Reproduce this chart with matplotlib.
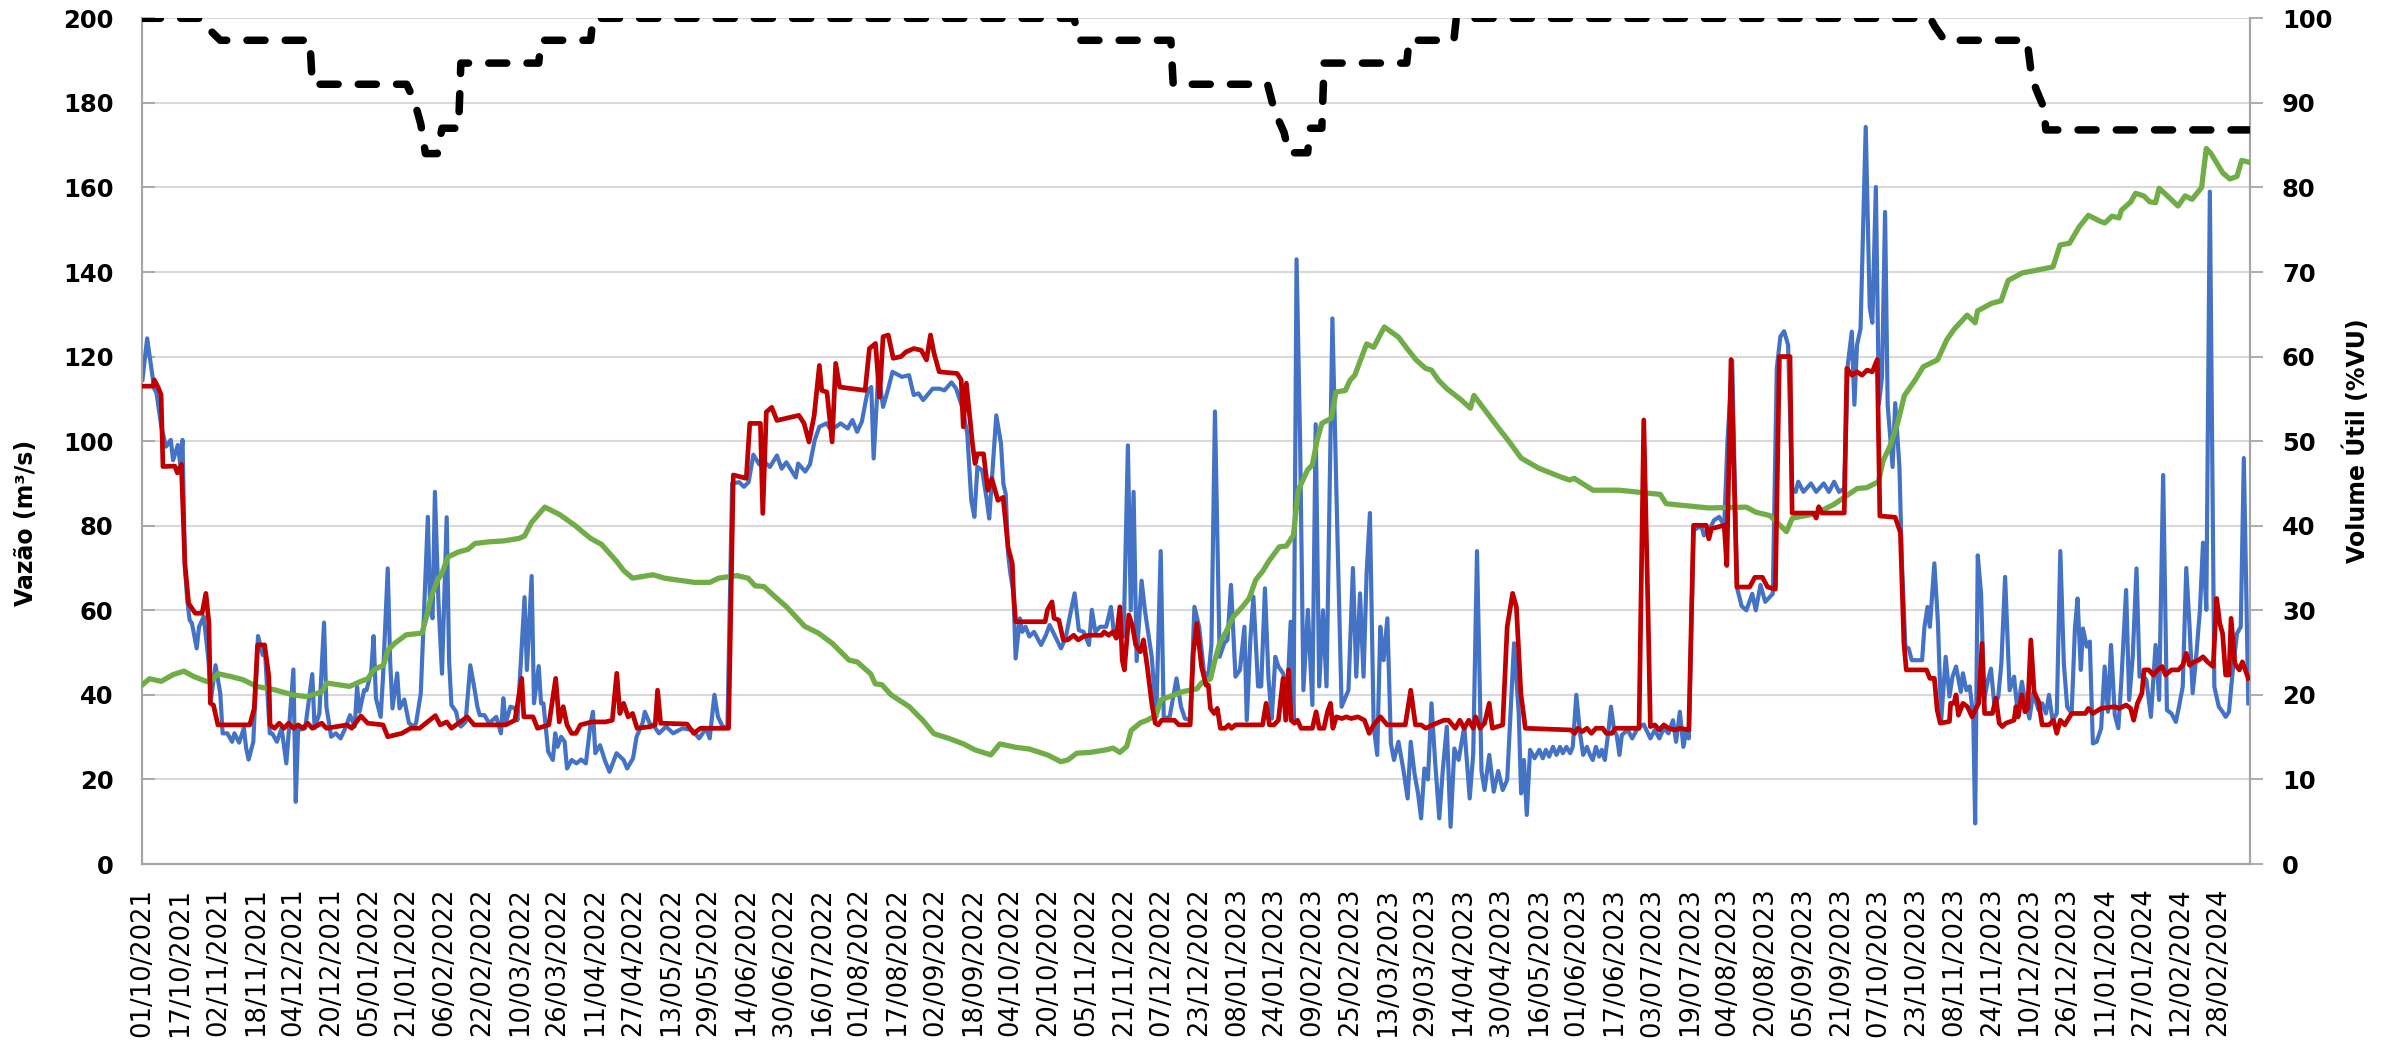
import matplotlib
matplotlib.use("Agg")
import matplotlib.pyplot as plt
import pandas as pd

# ---------------- data (days counted from 01/10/2021) ----------------
start = pd.Timestamp("2021-10-01")

# inflow (blue), m3/s
blue_day = [0, 2, 3.5, 5, 6, 8, 10, 12, 13, 15, 16, 17, 18, 19, 20, 21, 23, 24, 26, 28, 29, 31, 33, 34, 36, 38, 39, 41,
            43, 44, 45, 47, 49, 51, 52, 54, 55, 57, 59, 61, 62, 64, 65, 66, 69, 72, 73, 75, 77, 78, 80, 82, 84, 86, 88,
            90, 91, 92, 94, 95, 97, 98, 99, 101, 102, 104, 105, 106, 108, 109, 111, 113, 115, 116, 118, 121, 122, 123,
            124, 125.5, 127, 129, 130, 131, 133, 134, 135, 137, 139, 141, 142, 143, 145, 147, 150, 152, 153, 154, 156,
            158, 159, 162, 163, 165, 166, 168, 169, 170, 172, 174, 175, 176, 177.5, 179, 180, 182, 184, 186, 188, 190,
            191, 192, 194, 196, 198, 201, 204, 205.5, 208, 209.5, 212, 213, 215, 217, 219, 222, 225, 229, 233, 236, 239,
            240.5, 242.5, 244, 246, 248, 250, 253, 255, 257, 259, 261.5, 263, 266, 269, 271, 273, 277, 278, 281, 283,
            285, 287, 290, 292, 296, 299, 301, 303, 305, 307.5, 309, 310, 312, 314, 316, 318, 322, 325, 327, 329, 331,
            335, 338, 340, 343, 345, 347.5, 349.7, 351.4, 352.7, 354, 356, 358, 359, 360.5, 362, 364, 365, 366, 367,
            368, 369.3, 370.2, 372, 373, 374.4, 376, 378, 381, 383, 384.6, 387, 389.4, 391.4, 393.3, 395.2, 397, 399,
            401.3, 402.5, 404, 406, 408.6, 410.6, 412, 414, 416, 417.8, 419, 420.2, 421.5, 423.6, 425, 427.9, 429.8,
            431.7, 433, 435.5, 438.4, 440.3, 442, 444.2, 446, 448, 450, 451.9, 453.2, 454.7, 456.7, 458.6, 460, 461.5,
            463.4, 465.3, 467.2, 468.2, 469.7, 471, 473, 474.3, 475.9, 477.4, 478.8, 480.3, 481.6, 483.6, 485.5,
            486.8, 488, 489.3, 490.8, 492.2, 494.1, 496, 497.4, 498.9, 500.5, 502, 504.5, 506.4, 508.4, 511.3, 513.2,
            514.6, 516.2, 517.7, 519, 520.4, 522, 523.5, 524.8, 526.2, 527.8, 529.3, 530.6, 532.5, 534.5, 536.4,
            537.7, 539.3, 540.8, 542.1, 543.5, 545, 546.5, 548, 549.8, 551.3, 553, 554.6, 556.2, 558, 560.4, 562.7,
            564.2, 565.8, 567.7, 569, 571, 572.9, 574.8, 576.7, 578.6, 581.5, 583.5, 584.5, 585.7, 586.9, 588.3,
            590.2, 592.2, 593.7, 595, 596.4, 598, 599.5, 601, 602.2, 603.7, 605.3, 606.4, 607.9, 609.5, 610.8, 612.4,
            613.7, 614.9, 616.2, 617.6, 618.7, 620, 621.4, 622.6, 623.9, 625, 626.2, 627.2, 629.7, 631.6, 633.5,
            634.8, 636.5, 639.3, 641.2, 643.1, 645, 647, 648.9, 650.2, 651.8, 653.3, 654.6, 655.6, 657.6, 660.9, 662,
            664.1, 666.3, 668.5, 670.6, 672, 674, 676, 678, 680, 682.5, 684, 686, 688, 691.2, 692.9, 694.4, 696,
            697.7, 699.4, 700.9, 702, 704.2, 707.4, 709.6, 712.8, 715, 717.2, 719.3, 721.5, 723, 724.7, 725.8, 726.9,
            728.4, 730.6, 732.3, 733.4, 734.9, 736.2, 737.5, 738.8, 739.9, 742, 743.1, 744.9, 745.9, 747.4, 748.8,
            750.1, 754.5, 755.5, 756.8, 757.8, 759.7, 761.2, 762.6, 764.5, 766.1, 767.4, 768.9, 770.9, 771.8, 773.3,
            774.7, 776.2, 777, 778.1, 779.5, 780.8, 782.4, 783.7, 785.2, 786.8, 788.1, 789.7, 791.6, 793.5, 794.9,
            796.8, 798.1, 800, 801.6, 803.9, 805.4, 807, 808.3, 809.8, 811.6, 813.1, 814.6, 816, 817.9, 819.3, 820.4,
            821.8, 822.7, 824.3, 825.6, 826.9, 828.5, 830.4, 831.9, 833.3, 834.6, 836.2, 837.7, 839, 841, 842.3,
            843.8, 845.4, 846.7, 848.1, 849.6, 851.5, 853.5, 855, 856.7, 858.3, 860.2, 862.1, 863.4, 865, 866.5,
            867.9, 869.2, 870.7, 872.3, 873.6, 875, 876.5, 878.4, 880.3, 881.9, 883.2, 884.6, 886.1, 888, 889.6,
            890.9, 892.8]
blue_q = [114.5, 124.3, 118.4, 112.4, 111.3, 103.4, 98.7, 100.3, 95.5, 99.1, 94.7, 100.3, 70.3, 62.4, 57.7, 56.9, 51,
          56.1, 58.5, 48.2, 38.8, 47, 40.3, 30.9, 30.9, 28.9, 30.9, 28.7, 32.1, 27.3, 24.7, 28.9, 53.9, 49.4, 49.8,
          30.9, 30.9, 28.9, 32.1, 23.8, 30.9, 46, 14.7, 31.7, 32.1, 44.9, 32.1, 35.6, 57.1, 37.2, 30.1, 30.9, 29.7,
          32.1, 35.2, 32.5, 41.9, 36, 41.1, 41.1, 45.5, 53.9, 39.2, 34.8, 44.3, 69.9, 48.2, 36.8, 45.1, 36.8, 38.9,
          33.3, 32.5, 33.3, 40.3, 82.1, 60, 58.1, 88, 62, 45, 82, 48.2, 37.6, 36, 33.3, 32.5, 33.6, 47, 40.7, 37.2,
          35.2, 35.2, 33.3, 34.8, 30.9, 39.2, 33.3, 37.2, 36.8, 34, 63.1, 45.9, 68.1, 38, 46.8, 38, 38, 26.6, 24.6,
          30.9, 27.7, 30.1, 28.9, 22.6, 24.6, 23.8, 24.7, 23.8, 33.3, 36, 26.2, 28.1, 24.6, 21.8, 26.2, 24.6, 22.6,
          25, 30.1, 33.3, 36, 33.3, 32.5, 30.9, 32.5, 30.9, 32.1, 31.7, 29.7, 32.1, 29.7, 40, 34.8, 32.5, 32.1, 90,
          90.3, 89.2, 90.3, 96.8, 94.5, 95.5, 93.9, 96.6, 93.5, 95, 91.4, 94.7, 92.8, 94.5, 100.2, 103.4, 104.2,
          102.6, 104.2, 103, 105, 102.2, 104.6, 112, 112.8, 95.9, 116.4, 108.1, 112, 116.4, 115.2, 115.6, 110.9,
          111.3, 109.7, 112.4, 112.4, 112, 113.9, 112.4, 108.1, 101.8, 86, 82.1, 93.9, 93.1, 86, 81.7, 93.9, 106.1,
          99.4, 89.9, 87.5, 73.3, 68.6, 64, 48.6, 58.1, 54.9, 56.1, 53.8, 54.9, 51.8, 54.1, 56.5, 53.8, 51, 53.4,
          58.9, 64, 55.3, 54.9, 51.8, 60.1, 54.9, 56.1, 56.1, 60.8, 54.1, 56.1, 53.8, 99, 60, 88, 48, 67, 60, 49,
          34.8, 74, 34.4, 34.8, 43.9, 37.2, 34.4, 34, 60.8, 56.1, 45.5, 44.3, 51.8, 107, 49, 52.2, 53, 66, 44.3,
          45.9, 56.1, 34, 53, 63.2, 42, 42, 65.2, 43.9, 34.4, 49, 46.7, 45.1, 41.1, 57.3, 34, 143, 100, 41.1, 60.1,
          37.6, 104, 42, 60, 42, 129, 83, 37.2, 41.1, 70, 44.3, 64, 44.3, 68.7, 83, 32.5, 25.8, 56.1, 48.2, 58.1,
          28.5, 24.6, 28.9, 22.6, 15.5, 28.9, 21.4, 16.7, 10.8, 22.6, 20, 38, 24.6, 10.8, 22.2, 32.5, 8.8, 27.3,
          24.6, 32.5, 15.5, 26, 74, 22, 17.5, 25.8, 17.1, 22, 17.5, 19.9, 52.2, 35.6, 16.7, 24.6, 11.6, 27, 25, 27,
          25, 27, 25.4, 27.7, 25.8, 27.7, 26.2, 27.7, 26.2, 27.7, 40, 30.9, 25.8, 27.7, 25.8, 24.6, 27.7, 25.4, 27,
          24.6, 30.9, 37.2, 31.7, 30.5, 25.8, 30.5, 31.7, 29.7, 31.7, 32.5, 33, 29.7, 31.7, 29.7, 32.1, 30.9, 34,
          28.9, 36, 27.7, 31.7, 29.7, 78.9, 80, 77.7, 78.9, 81.3, 82.1, 80, 100, 119, 65.4, 61, 60, 63.9, 60, 66,
          62, 63.9, 117.2, 124.7, 126, 122.7, 88.8, 88, 90.4, 88, 90, 88, 90, 88, 90.4, 88, 88.8, 118, 125.9, 108.6,
          122.7, 126.6, 174.3, 131.7, 128, 160.1, 108.8, 115, 154.2, 108.6, 93.9, 109, 93.9, 72, 51.4, 51, 48.2,
          48.2, 56.1, 60.8, 56.1, 71.1, 57.3, 34, 49, 39.6, 44.3, 46.7, 40.7, 45.1, 41.1, 42, 34.8, 9.6, 73, 64,
          38.8, 43.5, 46.2, 37.2, 39.6, 47.4, 67.9, 41.1, 44.3, 36.4, 43.1, 38.8, 34.4, 40.4, 36.4, 38, 35.6, 40,
          34, 35.6, 74, 47.4, 37.2, 35.6, 55.7, 62.8, 45.9, 55.7, 51.4, 52.6, 28.5, 28.9, 32.1, 46.7, 36, 51.8,
          35.2, 32.1, 43.5, 64.8, 38.8, 49, 69.9, 44.3, 44.7, 43.5, 34.8, 51.8, 38.8, 92, 36.4, 35.6, 33.6, 37.2,
          41.9, 70, 56.1, 40.4, 49, 60.1, 76, 60.1, 159, 41.9, 37.2, 36, 34.8, 36, 45.1, 54.5, 56.1, 96, 38]

# outflow (red), m3/s
red_day = [0, 4.6, 5, 6.6, 7.9, 8.7, 13.7, 14.8, 16.5, 18, 19.6, 22.4, 25.3, 26.9, 28.2, 28.8, 30.1, 32, 45.5, 47.4,
           48.8, 51.8, 53.6, 54.1, 56, 58, 60, 62, 64, 66, 68, 70, 72, 76, 78, 86.8, 88.7, 92.6, 95.5, 102, 104, 110,
           113.7, 117.5, 124.2, 126.2, 129, 131, 137.7, 140.6, 154, 157.9, 160.8, 161.7, 165.6, 167.5, 172.3, 175.2,
           176.7, 178.4, 180, 181.9, 183.8, 185.7, 190.5, 196.3, 199.2, 201.1, 202.4, 204, 205.9, 207.8, 209.7,
           215.5, 217.4, 218.4, 219.7, 230.9, 233.7, 236.6, 248.5, 250.5, 256, 257.5, 262, 263, 264.5, 266.8, 269,
           278.3, 280.5, 282.6, 284.8, 287, 288, 290.2, 292.4, 293.9, 295.6, 306.4, 308.2, 310.8, 312.5, 314, 316.2,
           318.3, 321.6, 323.7, 327, 330.2, 332.4, 334.1, 335.6, 337.8, 345.4, 347.1, 348, 349.3, 351.9, 353, 354,
           356.6, 358.4, 360.1, 362.7, 364.9, 367, 368.8, 369.3, 370.2, 382.7, 383.7, 385.6, 386.5, 388.5, 390.4,
           392.3, 394.8, 396.7, 399, 401.3, 406.7, 407.7, 409.6, 411.5, 412.9, 414.4, 415.4, 416.3, 418.2, 419.8,
           421.1, 423.1, 424.4, 426, 427.9, 429.4, 430.7, 432.1, 437.5, 439.4, 444.2, 445.5, 447, 449, 450.9, 451.9,
           452.8, 454.4, 455.7, 457, 459, 460.5, 461.7, 463.4, 474.9, 476.4, 477.8, 479.7, 481.6, 483.6, 484.7,
           485.9, 487, 488.4, 489.7, 491.2, 496, 497.6, 498.9, 500.9, 502.4, 503.7, 504.7, 506.2, 508.5, 510.4,
           512.4, 515.3, 518.1, 520.1, 522, 524.9, 527.7, 535.4, 537.7, 539.7, 542.1, 544.1, 547, 551.7, 553.7,
           556.6, 558.5, 560.4, 562.3, 564.2, 565.2, 567.1, 569, 571, 572.3, 576.7, 578.6, 580.9, 582.5, 584.4,
           586.3, 605.6, 607.2, 608.5, 610.4, 612.4, 614.3, 616.2, 619.1, 620.6, 623, 624.5, 634.5, 636.5, 638.3,
           639.3, 641.2, 643.1, 645, 647, 649.8, 651.8, 655.6, 657.6, 663, 664.1, 665.2, 670.6, 671.7, 673.5, 676,
           681.4, 683.6, 686.8, 689, 692.3, 694, 698.5, 699.4, 708.5, 709.6, 710.7, 712, 721.5, 722.6, 724.7, 726.9,
           729, 731.2, 733.4, 735.5, 736.6, 743.1, 745.3, 746.8, 747.8, 756.4, 757.8, 759.7, 760.9, 762.2, 766.1,
           766.6, 768, 768.9, 769.9, 771.8, 773.7, 775.7, 777, 778.5, 779.9, 781, 784.3, 785.8, 787.2, 788.5, 790,
           793.5, 794.3, 795.2, 796.8, 798.1, 799.3, 800.6, 802, 803.9, 805.4, 808.3, 810.2, 811.6, 813.1, 815,
           817.9, 823.7, 825, 826.9, 830.4, 836.2, 838.1, 841, 842.9, 844.2, 845.8, 847.7, 848.6, 850.6, 852.5,
           854.4, 856.3, 857.7, 860.2, 863.1, 865, 866.5, 867.9, 869.8, 871.7, 873.6, 875.5, 877.9, 879.4, 880.7,
           881.9, 883.2, 884.6, 885.5, 887.1, 889, 890.3, 892.8]
red_q = [113, 113, 114.5, 112.8, 111, 94, 94.1, 92.5, 94.5, 71, 61.6, 59.3, 59.3, 64, 56.9, 38, 37.6, 32.9, 32.9,
         36.8, 51.8, 51.8, 44.3, 32.9, 32.1, 33.3, 32.1, 33.3, 32.1, 32.9, 32.1, 33.3, 32.1, 33.3, 32.1, 32.9, 32.1,
         35, 33.3, 32.9, 30.1, 30.9, 32.1, 32.1, 35.1, 32.9, 33.6, 32.1, 34.8, 32.9, 32.9, 34, 43.9, 34.8, 34.8,
         32.1, 32.9, 43.9, 33.6, 37.2, 32.9, 30.9, 30.9, 32.9, 33.6, 33.6, 34, 45.1, 35.6, 38, 34.8, 35.6, 32.1,
         32.5, 32.9, 41.1, 33.3, 33.1, 30.9, 32.1, 32.1, 92, 91.2, 104.2, 104.2, 82.9, 106.9, 108, 104.9, 106.1,
         104.2, 99.8, 106.1, 117.9, 112, 111.6, 99.8, 118.4, 112.8, 112, 121.9, 123.1, 110.4, 124.7, 125.1, 119.6,
         120, 121.1, 121.9, 121.5, 119.2, 125.1, 120.8, 116.4, 116, 114.5, 103.4, 113.7, 99.4, 94.7, 97, 97, 88.4,
         91.1, 86, 86.7, 74.9, 71, 64, 57.3, 57.3, 60.1, 62, 58.1, 57.7, 53, 53, 54.1, 53, 53.8, 54.1, 54.1, 54.9,
         54.1, 54.9, 53.4, 60.8, 48.2, 45.9, 58.9, 56.1, 51.8, 50.2, 53, 46.7, 38, 33.3, 32.9, 34, 34, 32.9, 32.9,
         49.8, 56.9, 46.7, 42.3, 42.3, 36.8, 35.6, 36.8, 32.1, 32.1, 32.9, 32.1, 32.9, 32.9, 38, 32.9, 32.9, 34,
         43.9, 34, 45.9, 34, 33.3, 34, 32.1, 32.1, 36, 32.1, 32.1, 36, 38, 32.1, 34.8, 34.4, 34.8, 34.4, 34.8, 34,
         30.9, 32.9, 34.8, 32.9, 32.9, 41.1, 32.9, 32.9, 32.1, 32.9, 34, 34, 32.1, 34, 32.1, 34, 32.1, 34.8, 32.1,
         33.3, 38, 32.1, 32.9, 56.1, 64, 60.8, 40.3, 32.1, 31.7, 30.9, 32.1, 31.3, 32.1, 30.9, 32.1, 32.1, 30.9,
         30.9, 32.1, 32.1, 105, 60, 32.5, 32.9, 31.7, 32.9, 32.1, 31.7, 32.1, 31.7, 80.1, 80.1, 76.9, 79.3, 80.1,
         70.6, 119.3, 65.5, 65.5, 67.8, 67.8, 65.5, 65, 120, 120, 83, 83, 81.8, 84.5, 83, 83, 117.2, 115.6, 116.4,
         115.6, 116.8, 116.4, 119.3, 82.3, 82, 78.4, 52.2, 45.9, 45.9, 43.9, 43.9, 36.4, 33.3, 33.7, 38, 38, 40,
         35.2, 38, 37.2, 34.8, 36.4, 38, 52.2, 35.6, 35.6, 39.2, 33.3, 32.5, 33.3, 34, 37.2, 34.8, 40, 36, 36.8, 53,
         40.7, 38.4, 32.9, 32.9, 34, 30.9, 34, 32.9, 35.6, 35.6, 36.8, 35.6, 36.8, 37.2, 36.8, 37.6, 36.8, 34, 38,
         40.4, 45.9, 45.9, 44.7, 45.9, 46.7, 44.7, 45.9, 45.9, 47, 49.8, 47, 47.8, 48.2, 49, 47.8, 46.7, 62.8, 56.9,
         54.5, 44.7, 44.7, 58.1, 47.4, 45.9, 47.8, 43.9]

# useful volume (green), %VU
green_day = [0, 3, 8, 13, 17.6, 21.5, 27, 29, 32, 37, 42.6, 48.4, 56, 63.7, 69.5, 74.3, 76.2, 78.2, 83, 87.8, 92.6,
             95.5, 98.3, 102.2, 104.1, 107, 111.8, 118.5, 120.4, 122.3, 125, 127, 129.5, 134, 138, 141, 147, 153,
             159.7, 162, 165, 170.6, 177, 183.5, 190, 194.6, 201, 204, 207.8, 216.5, 221.3, 228.9, 234, 240.5, 244.3,
             252, 256.8, 259.7, 263.5, 267.4, 273.1, 280.8, 286.6, 292.4, 299.6, 303, 308.7, 310.7, 313.5, 317.4,
             325.1, 330.8, 335.6, 341.4, 348.1, 352.9, 359.7, 363.5, 370.2, 376, 383.7, 389.4, 392.3, 396.1, 401.9,
             408.6, 411.5, 414.4, 417.3, 419.2, 423.1, 425.9, 429.8, 431.7, 435.5, 441.3, 447, 449, 452.8, 454.7,
             456.7, 459.5, 462.4, 466.3, 469.2, 472, 474.9, 477.5, 482, 485, 488, 490, 494, 496, 498, 500, 504, 506,
             510, 512, 514, 517, 519, 522, 526.5, 532.5, 536, 540, 544, 546.5, 549.5, 553, 559, 563, 564.5, 568,
             574.5, 579, 584.5, 592, 601, 605, 607, 615, 626, 633, 643.5, 646, 657, 664, 680, 684, 690, 697, 699.5,
             709, 717, 727, 731, 736, 738, 741, 744, 747, 751.5, 755, 761, 765, 768, 773.6, 777, 778, 784, 788, 791,
             797, 801, 810, 813, 817, 821, 825, 830, 832, 835, 838, 839, 843, 845, 848.5, 851, 853.5, 855, 858.5,
             863, 866, 869, 873, 875, 877, 882, 885, 888, 890, 892.8]
green_vu = [21.2, 21.9, 21.6, 22.4, 22.8, 22.2, 21.6, 21.6, 22.5, 22.2, 21.8, 21, 20.6, 20, 19.8, 20.2, 20.4, 21.4,
            21.2, 21, 21.6, 21.9, 23, 23.5, 25.3, 26.1, 27.1, 27.3, 29.2, 31.5, 33.5, 34.4, 36.3, 36.9, 37.2, 37.9,
            38.1, 38.2, 38.5, 38.8, 40.4, 42.2, 41.3, 40, 38.5, 37.8, 35.8, 34.7, 33.8, 34.2, 33.8, 33.5, 33.3, 33.3,
            33.8, 34.1, 33.8, 32.9, 32.8, 31.8, 30.4, 28.1, 27.3, 26.1, 24.1, 23.9, 22.5, 21.3, 21.2, 20, 18.6, 17,
            15.4, 14.9, 14.2, 13.5, 12.9, 14.2, 13.8, 13.6, 12.9, 12.1, 12.3, 13.1, 13.2, 13.5, 13.7, 13.2, 13.9,
            15.8, 16.7, 17, 17.6, 19.4, 19.8, 20.4, 20.7, 21.4, 21.9, 24.1, 26.1, 27.5, 29.2, 30.4, 31.4, 33.6, 34.6,
            35.8, 37.5, 37.6, 38.9, 44.2, 46.6, 47.2, 50.1, 52.1, 52.7, 55.8, 56, 57.2, 57.8, 60, 61.5, 61.1, 63.5,
            62.3, 61, 59.6, 58.6, 58.4, 57.2, 56.2, 54.9, 53.9, 55.4, 54.1, 51.7, 50.1, 48, 46.8, 45.8, 45.4, 45.6,
            44.2, 44.2, 44, 43.7, 42.6, 42.3, 42.1, 42.2, 41.6, 41.2, 39.3, 40.9, 41.4, 42.5, 44.4, 44.5, 45.2, 47.7,
            49.5, 52, 55.4, 57.2, 58.8, 59.6, 62, 63.2, 64.9, 64, 65.4, 66.3, 66.6, 69, 69.9, 70.1, 70.6, 73.2, 73.4,
            75.3, 76.7, 76, 75.8, 76.6, 76.4, 77.3, 78.3, 79.3, 79, 78.3, 78.2, 79.9, 79, 77.8, 79, 78.6, 80, 84.6,
            84, 81.7, 81, 81.3, 83.2, 83]

# volume target (black dashed), %VU
black_day = [0, 25, 29, 33, 71, 72, 112, 114, 116, 118, 120, 125, 127, 134, 135, 168, 169, 190, 191, 395, 397, 436,
             437, 477, 480, 484, 486, 494, 495, 500, 501, 536, 537, 556, 557, 758, 760, 764, 799, 801, 803, 806, 807,
             893]
black_vu = [100, 100, 98.5, 97.4, 97.4, 92.2, 92.2, 91, 89.5, 87.5, 84, 84, 87, 87, 94.7, 94.7, 97.4, 97.4, 100, 100,
            97.4, 97.4, 92.2, 92.2, 89, 86.5, 84.1, 84.1, 87, 87, 94.7, 94.7, 97.4, 97.4, 100, 100, 99, 97.4, 97.4,
            93, 91.5, 89.5, 86.8, 86.8]

tick_dates = pd.date_range("2021-10-01", "2024-02-28", freq="16D")
tick_days = [(d - start).days for d in tick_dates]
tick_labels = [d.strftime("%d/%m/%Y") for d in tick_dates]

# ---------------- figure ----------------
fig = plt.figure(figsize=(24.02, 10.45), dpi=100)
ax = fig.add_axes([0.0593, 0.1732, 0.8774, 0.8093])
ax2 = ax.twinx()
ax3 = ax.twinx()

spine_c = "#A6A6A6"
ax.plot(blue_day, blue_q, color="#4472C4", lw=3.0, solid_joinstyle="round", zorder=3)
ax2.plot(green_day, green_vu, color="#70AD47", lw=3.8, solid_joinstyle="round", zorder=3)
ax2.plot(black_day, black_vu, color="black", lw=5.4, linestyle=(0, (2.4, 2.7)),
         dash_capstyle="round", zorder=4)
ax3.plot(red_day, red_q, color="#C00000", lw=3.4, solid_joinstyle="round", zorder=3)

ax.set_zorder(1)
ax2.set_zorder(2)
ax3.set_zorder(3)
ax2.patch.set_visible(False)
ax3.patch.set_visible(False)

for a in (ax, ax2, ax3):
    a.set_xlim(0, 893.5)
ax.set_ylim(0, 200)
ax3.set_ylim(0, 200)
ax2.set_ylim(0, 100)

ax.set_yticks(range(0, 201, 20))
ax2.set_yticks(range(0, 101, 10))
ax3.set_yticks([])
ax.grid(axis="y", color="#D9D9D9", lw=1.5)
ax.set_axisbelow(True)

ax.set_xticks(tick_days)
ax.set_xticklabels(tick_labels, rotation=90, fontsize=18.5, family="DejaVu Sans")
ax.tick_params(axis="x", length=0, pad=17)
for a in (ax2, ax3):
    a.tick_params(axis="x", bottom=False, labelbottom=False)

ax.tick_params(axis="y", direction="in", length=9, width=1.3, color=spine_c, pad=21, labelsize=17.5)
ax2.tick_params(axis="y", direction="out", length=9, width=1.3, color=spine_c, pad=14, labelsize=17.5)
for lab in ax.get_yticklabels() + ax2.get_yticklabels():
    lab.set_fontweight("bold")

for a in (ax, ax2, ax3):
    a.spines["top"].set_visible(False)
    for s in ("left", "right", "bottom"):
        a.spines[s].set_color(spine_c)
        a.spines[s].set_linewidth(1.5)
ax3.spines["right"].set_visible(False)
ax3.spines["left"].set_visible(False)

fig.text(0.0108, 0.5, "Vazão (m³/s)", rotation=90, ha="center", va="center",
         fontsize=17, fontweight="bold")
fig.text(0.981, 0.578, "Volume Útil (%VU)", rotation=90, ha="center", va="center",
         fontsize=17, fontweight="bold")

fig.savefig("out.png", dpi=100)
